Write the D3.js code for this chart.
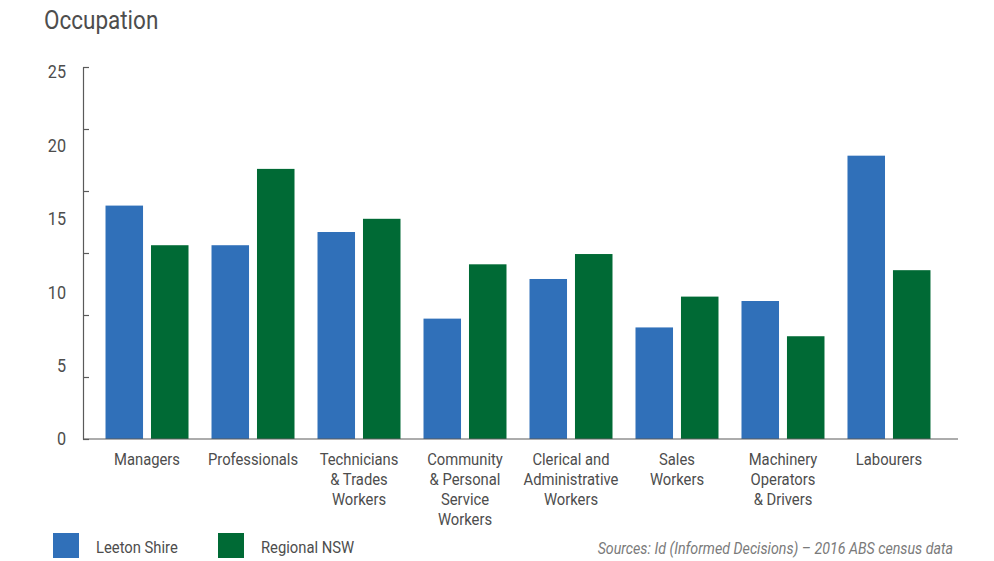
<html lang="en">
<head>
<meta charset="utf-8">
<title>Occupation</title>
<style>
  body { margin: 0; background: #fff; }
  text { font-family: "Liberation Sans Narrow", "Roboto", "Liberation Sans", sans-serif; fill: #4d4d4d; }
  .axis path, .axis line { stroke: #5a5a5a; stroke-width: 1.2; fill: none; }
</style>
<script src="https://d3js.org/d3.v7.min.js"></script>
</head>
<body>
<svg id="chart" width="994" height="561"></svg>
<script>
// data
var categories = ["Managers", "Professionals", "Technicians & Trades Workers",
  "Community & Personal Service Workers", "Clerical and Administrative Workers",
  "Sales Workers", "Machinery Operators & Drivers", "Labourers"];
var labelLines = [
  ["Managers"],
  ["Professionals"],
  ["Technicians", "& Trades", "Workers"],
  ["Community", "& Personal", "Service", "Workers"],
  ["Clerical and", "Administrative", "Workers"],
  ["Sales", "Workers"],
  ["Machinery", "Operators", "& Drivers"],
  ["Labourers"]
];
var seriesNames = ["Leeton Shire", "Regional NSW"];
var leeton   = [15.9, 13.2, 14.1, 8.2, 10.9, 7.6, 9.4, 19.3];
var regional = [13.2, 18.4, 15.0, 11.9, 12.6, 9.7, 7.0, 11.5];
var yTickValues = [0, 5, 10, 15, 20, 25];
var colors = ["#3070b9", "#006a35"];

// the original uses a condensed face; squeeze Roboto horizontally to match
var squeeze = 0.87;

var svg = d3.select("#chart");

var x = d3.scaleBand().domain(categories).range([83, 958])
  .paddingInner(0.217).paddingOuter(0.236).align(0.45);
var xInner = d3.scaleBand().domain(seriesNames).range([0, x.bandwidth()]).paddingInner(0.175);
var y = d3.scaleLinear().domain([0, 25]).range([439, 72]);
// the tick marks of the original sit on a slightly different spacing than the labels
var yTicks = d3.scaleLinear().domain([0, 30]).range([439, 67]);

function placed(px, py, k) {
  return "translate(" + px + "," + py + ") scale(" + k + ",1)";
}

// title
svg.append("text")
  .attr("transform", placed(44, 29, 0.9))
  .style("font-size", "25px")
  .text("Occupation");

// y axis line + tick marks
svg.append("g")
  .attr("class", "axis")
  .attr("transform", "translate(83,0)")
  .call(d3.axisLeft(yTicks).tickValues([0, 5, 10, 15, 20, 25, 30]).tickSize(-6).tickSizeOuter(0).tickFormat(""));

// y labels
svg.append("g").selectAll("text")
  .data(yTickValues)
  .join("text")
  .attr("transform", function(d) { return placed(66, y(d), 0.9); })
  .attr("dy", "0.36em")
  .attr("text-anchor", "end")
  .style("font-size", "18px")
  .text(function(d) { return d; });

// bars
var rows = categories.map(function(c, i) { return {cat: c, values: [leeton[i], regional[i]]}; });
var groups = svg.append("g").selectAll("g")
  .data(rows)
  .join("g")
  .attr("transform", function(d) { return "translate(" + x(d.cat) + ",0)"; });

groups.selectAll("rect")
  .data(function(d) { return d.values.map(function(v, j) { return {name: seriesNames[j], value: v, j: j}; }); })
  .join("rect")
  .attr("x", function(d) { return xInner(d.name); })
  .attr("y", function(d) { return y(d.value); })
  .attr("width", xInner.bandwidth())
  .attr("height", function(d) { return y(0) - y(d.value); })
  .attr("fill", function(d) { return colors[d.j]; });

// baseline
svg.append("line")
  .attr("x1", 83).attr("x2", 958)
  .attr("y1", y(0)).attr("y2", y(0))
  .attr("stroke", "#5a5a5a").attr("stroke-width", 1.2);

// category labels
var lab = svg.append("g").selectAll("text")
  .data(categories)
  .join("text")
  .attr("text-anchor", "middle")
  .attr("transform", function(d) { return placed(x(d) + x.bandwidth() / 2, 465, squeeze); })
  .style("font-size", "17px");
lab.selectAll("tspan")
  .data(function(d, i) { return labelLines[i]; })
  .join("tspan")
  .attr("x", 0)
  .attr("dy", function(d, i) { return i === 0 ? 0 : 20; })
  .text(function(d) { return d; });

// legend
var legendX = [53, 218];
var legend = svg.append("g").selectAll("g")
  .data(seriesNames)
  .join("g")
  .attr("transform", function(d, i) { return "translate(" + legendX[i] + ",533)"; });
legend.append("rect")
  .attr("width", 26).attr("height", 25)
  .attr("fill", function(d, i) { return colors[i]; });
legend.append("text")
  .attr("transform", placed(43, 14, squeeze))
  .attr("dy", "0.35em")
  .style("font-size", "17px")
  .text(function(d) { return d; });

// source
svg.append("text")
  .attr("transform", placed(953, 548, 0.89))
  .attr("dy", "0.35em")
  .attr("text-anchor", "end")
  .style("font-size", "16px")
  .style("font-style", "italic")
  .style("fill", "#7a7a7a")
  .text("Sources: Id (Informed Decisions) \u2013 2016 ABS census data");
</script>
</body>
</html>
